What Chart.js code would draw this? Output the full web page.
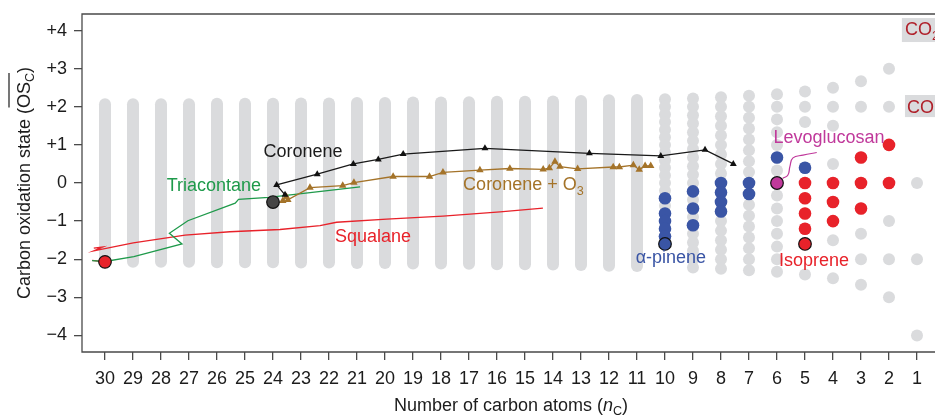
<!DOCTYPE html>
<html>
<head>
<meta charset="utf-8">
<script src="https://cdn.jsdelivr.net/npm/chart.js@4/dist/chart.umd.min.js"></script>
<style>
html,body{margin:0;padding:0;background:#fff;}
canvas{display:block;}
</style>
</head>
<body>
<canvas id="c" width="935" height="415"></canvas>
<script>
// ---------------- DATA ----------------
const xTickValues = [30,29,28,27,26,25,24,23,22,21,20,19,18,17,16,15,14,13,12,11,10,9,8,7,6,5,4,3,2,1];
const yTickValues = [-4,-3,-2,-1,0,1,2,3,4];

// Possible OSc values, large nC: dense columns (low / high end)
const continuumN    = [30,29,28,27,26,25,24,23,22,21,20,19,18,17,16,15,14,13,12,11];
const continuumLow  = [-2.07,-2.07,-2.07,-2.07,-2.08,-2.08,-2.08,-2.09,-2.09,-2.10,-2.10,-2.11,-2.11,-2.12,-2.13,-2.13,-2.14,-2.15,-2.17,-2.18];
const continuumHigh = [2.07,2.07,2.07,2.07,2.08,2.08,2.08,2.09,2.09,2.10,2.10,2.11,2.11,2.12,2.13,2.13,2.14,2.15,2.17,2.18];

// Possible OSc values, small nC: individual dots
const latticeN = [10,9,8,7,6,5,4,3,2,1];
const latticeOS = [
  [2.2,2.0,1.8,1.6,1.4,1.2,1.0,0.8,0.6,0.4,0.2,0,-0.2,-0.4,-0.6,-0.8,-1.0,-1.2,-1.4,-1.6],
  [2.22,2.0,1.78,1.56,1.33,1.11,0.89,0.67,0.44,0.22,0,-0.22,-0.44,-0.67,-0.89,-1.11,-1.33,-1.56,-1.78,-2.0,-2.22],
  [2.25,2.0,1.75,1.5,1.25,1.0,0.75,0.5,0.25,0,-0.25,-0.5,-0.75,-1.0,-1.25,-1.5,-1.75,-2.0,-2.25],
  [2.29,2.0,1.71,1.43,1.14,0.86,0.57,0.29,0,-0.29,-0.57,-0.86,-1.14,-1.43,-1.71,-2.0,-2.29],
  [2.33,2.0,1.67,1.33,1.0,0.67,0.33,0,-0.33,-0.67,-1.0,-1.33,-1.67,-2.0,-2.33],
  [2.4,2.0,1.6,0.4,0,-0.4,-0.8,-1.2,-1.6,-2.4],
  [2.5,2.0,1.5,0.5,0,-0.5,-1.0,-1.5,-2.5],
  [2.67,2.0,0.67,0,-0.67,-1.33,-2.0,-2.67],
  [3,2,1,0,-1,-2,-3],
  [0,-2,-4]
];

// Trajectories
const triacontaneN  = [30.46,30.0,28.97,27.25,27.70,27.04,25.35,25.23,24.15,20.89];
const triacontaneOS = [-2.04,-2.06,-1.93,-1.60,-1.32,-0.99,-0.53,-0.43,-0.375,-0.10];

const squalaneN  = [30.0,30.46,30.46,30.40,30.08,30.40,28.99,27.14,25.54,23.75,22.32,21.73,19.94,17.93,15.89,14.36];
const squalaneOS = [-2.07,-2.03,null,-1.71,-1.68,-1.78,-1.57,-1.37,-1.28,-1.22,-1.12,-1.03,-0.95,-0.87,-0.76,-0.66];

const coroneneN  = [23.57,23.87,22.42,21.13,20.24,19.35,16.43,12.70,10.15,8.57,7.56];
const coroneneOS = [-0.31,-0.05,0.23,0.50,0.62,0.76,0.91,0.78,0.71,0.87,0.50];

const coroneneO3N  = [23.65,23.52,23.47,22.68,21.51,21.11,19.71,18.41,17.93,16.61,15.54,14.35,14.13,13.93,13.75,13.12,11.85,11.63,11.13,10.92,10.71,10.51];
const coroneneO3OS = [-0.47,-0.36,-0.44,-0.12,-0.07,0.01,0.17,0.17,0.28,0.34,0.38,0.36,0.39,0.56,0.43,0.37,0.42,0.42,0.47,0.35,0.45,0.45];

// SOA products
const aPineneN  = [10,10,10,10,10,9,9,9,8,8,8,8,7,7,6,5];
const aPineneOS = [-0.4,-0.8,-1.0,-1.2,-1.4,-0.22,-0.67,-1.11,0,-0.25,-0.5,-0.75,0,-0.29,0.67,0.4];

const isopreneN  = [5,5,5,5,4,4,4,3,3,3,2,2];
const isopreneOS = [0,-0.4,-0.8,-1.2,0,-0.5,-1.0,0.67,0,-0.67,1,0];

// Precursors (outlined)
const precursorN  = [30,24,10,6,5];
const precursorOS = [-2.07,-0.5,-1.6,0,-1.6];

// Levoglucosan leader line
const levoLeaderN  = [4.58,5.07,5.43,5.54,5.61,5.80];
const levoLeaderOS = [0.80,0.73,0.66,0.43,0.21,0.12];

// ---------------- STYLE ----------------
const FONT = '"Liberation Sans", Arial, Helvetica, sans-serif';
const GREY = '#dadbdd';
const GREEN = '#1f9a4b';
const RED = '#e8222a';
const BLUE = '#3a55a5';
const BROWN = '#a47329';
const MAGENTA = '#c0399b';
const DARKRED = '#b0212b';
const AXIS = '#4a4a4a';
const TEXT = '#1c1c1c';

const precursorColors = [RED,'#454545',BLUE,MAGENTA,RED];

const annotations = [
  {text:'Coronene', x:22.93, y:0.68, color:'#1c1c1c', align:'center'},
  {text:'Triacontane', x:26.11, y:-0.20, color:GREEN, align:'center'},
  {text:'Squalane', x:20.43, y:-1.55, color:RED, align:'center'},
  {text:'\u03b1-pinene', x:9.79, y:-2.09, color:BLUE, align:'center'},
  {text:'Isoprene', x:4.68, y:-2.18, color:RED, align:'center'},
  {text:'Levoglucosan', x:4.14, y:1.06, color:MAGENTA, align:'center'}
];

function pts(xs, ys){ return xs.map((x,i)=>({x:x, y:ys[i]})); }

const datasets = [];
continuumN.forEach((n,i)=>{
  datasets.push({type:'scatter', showLine:true,
    data:[{x:n,y:continuumLow[i]},{x:n,y:continuumHigh[i]}],
    borderColor:GREY, borderWidth:12, borderCapStyle:'round',
    pointRadius:0, order:100});
});
const latticePts = [];
latticeN.forEach((n,i)=>latticeOS[i].forEach(v=>latticePts.push({x:n,y:v})));
datasets.push({type:'scatter', data:latticePts, pointRadius:6, backgroundColor:GREY, borderWidth:0, order:90});

datasets.push({type:'scatter', showLine:true, data:pts(triacontaneN,triacontaneOS), borderColor:GREEN, borderWidth:1.3, pointRadius:0, order:60});
datasets.push({type:'scatter', showLine:true, data:pts(squalaneN,squalaneOS), borderColor:RED, borderWidth:1.3, pointRadius:0, spanGaps:false, order:60});
datasets.push({type:'scatter', showLine:true, data:pts(coroneneO3N,coroneneO3OS), borderColor:BROWN, borderWidth:1.3,
  pointStyle:'triangle', pointRadius:4.3, pointBackgroundColor:BROWN, pointBorderWidth:0, order:55});
datasets.push({type:'scatter', showLine:true, data:pts(coroneneN,coroneneOS), borderColor:'#1a1a1a', borderWidth:1.3,
  pointStyle:'triangle', pointRadius:4, pointBackgroundColor:'#111', pointBorderWidth:0, order:50});
datasets.push({type:'scatter', showLine:true, data:pts(levoLeaderN,levoLeaderOS), borderColor:MAGENTA, borderWidth:1.2, tension:0.45, pointRadius:0, order:45});

datasets.push({type:'scatter', data:pts(aPineneN,aPineneOS), pointRadius:6.3, backgroundColor:BLUE, borderWidth:0, order:30});
datasets.push({type:'scatter', data:pts(isopreneN,isopreneOS), pointRadius:6.3, backgroundColor:RED, borderWidth:0, order:30});
datasets.push({type:'scatter', data:pts(precursorN,precursorOS), pointRadius:6.3, backgroundColor:precursorColors, borderColor:'#111', borderWidth:1.2, order:10});

function drawParts(ctx, parts, cx, baseY){
  let total = 0;
  parts.forEach(p=>{ ctx.font = p.font; p.w = ctx.measureText(p.text).width; total += p.w; });
  let x = cx - total/2;
  parts.forEach(p=>{
    ctx.font = p.font;
    ctx.fillText(p.text, x, baseY + (p.dy||0));
    p.x0 = x; x += p.w;
  });
  return parts;
}

const overlay = {
  id:'overlay',
  afterDatasetsDraw(chart){
    const {ctx, chartArea:a, scales:{x, y}} = chart;
    ctx.save();
    // CO2 / CO boxes
    ctx.fillStyle = GREY;
    let bl = x.getPixelForValue(1.54), bt = y.getPixelForValue(4.33), bb = y.getPixelForValue(3.70);
    ctx.fillRect(bl, bt, a.right - bl + 20, bb - bt);
    let cl = x.getPixelForValue(1.43), ct = y.getPixelForValue(2.31), cb = y.getPixelForValue(1.73);
    ctx.fillRect(cl, ct, a.right - cl + 20, cb - ct);
    ctx.fillStyle = DARKRED;
    ctx.textAlign = 'left'; ctx.textBaseline = 'alphabetic';
    ctx.font = '18px ' + FONT;
    let tx = x.getPixelForValue(1.43), ty = y.getPixelForValue(3.88);
    ctx.fillText('CO', tx, ty);
    let w = ctx.measureText('CO').width;
    ctx.font = '12.6px ' + FONT;
    ctx.fillText('2', tx + w, ty + 5);
    ctx.font = '18px ' + FONT;
    ctx.fillText('CO', x.getPixelForValue(1.36), y.getPixelForValue(1.85));

    // text labels
    ctx.font = '18px ' + FONT;
    annotations.forEach(l=>{
      ctx.fillStyle = l.color;
      ctx.textAlign = l.align;
      ctx.fillText(l.text, x.getPixelForValue(l.x), y.getPixelForValue(l.y));
    });
    // Coronene + O3
    ctx.fillStyle = BROWN;
    ctx.textAlign = 'left';
    let ox = x.getPixelForValue(17.21), oy = y.getPixelForValue(-0.18);
    ctx.font = '18px ' + FONT;
    ctx.fillText('Coronene + O', ox, oy);
    let ow = ctx.measureText('Coronene + O').width;
    ctx.font = '12.6px ' + FONT;
    ctx.fillText('3', ox + ow, oy + 5);
    ctx.restore();
  },
  afterDraw(chart){
    const {ctx, chartArea:a} = chart;
    ctx.save();
    // frame (left, top, bottom)
    ctx.strokeStyle = AXIS; ctx.lineWidth = 1.3;
    ctx.beginPath();
    ctx.moveTo(a.right + 20, a.top); ctx.lineTo(a.left, a.top);
    ctx.lineTo(a.left, a.bottom); ctx.lineTo(a.right + 20, a.bottom);
    ctx.stroke();

    ctx.fillStyle = TEXT;
    ctx.textAlign = 'left'; ctx.textBaseline = 'alphabetic';
    // x title
    drawParts(ctx, [
      {text:'Number of carbon atoms (', font:'18px ' + FONT},
      {text:'n', font:'italic 18px ' + FONT},
      {text:'C', font:'12.6px ' + FONT, dy:4},
      {text:')', font:'18px ' + FONT}
    ], 511, 411);
    // y title
    ctx.translate(29.5, 183);
    ctx.rotate(-Math.PI/2);
    const parts = drawParts(ctx, [
      {text:'Carbon oxidation state (', font:'18px ' + FONT},
      {text:'OS', font:'18px ' + FONT},
      {text:'C', font:'12.6px ' + FONT, dy:4},
      {text:')', font:'18px ' + FONT}
    ], 0, 0);
    ctx.strokeStyle = TEXT; ctx.lineWidth = 1.2;
    ctx.beginPath();
    ctx.moveTo(parts[1].x0 + 0.5, -20.5);
    ctx.lineTo(parts[2].x0 + parts[2].w, -20.5);
    ctx.stroke();
    ctx.restore();
  }
};

new Chart(document.getElementById('c'), {
  type:'scatter',
  data:{datasets:datasets},
  options:{
    responsive:false,
    devicePixelRatio:1,
    animation:false,
    events:[],
    layout:{autoPadding:false, padding:{left:0, right:0, top:14, bottom:0}},
    plugins:{legend:{display:false}, tooltip:{enabled:false}, title:{display:false}},
    scales:{
      x:{
        type:'linear', reverse:true, min:0.3571, max:30.8214,
        afterBuildTicks:s=>{ s.ticks = xTickValues.map(v=>({value:v})); },
        afterFit:s=>{ s.height = 63; s.paddingLeft = 0; s.paddingRight = 0; },
        grid:{drawOnChartArea:false, drawTicks:true, tickLength:8, color:AXIS, lineWidth:1.3},
        border:{display:false},
        ticks:{padding:8, autoSkip:false, maxRotation:0, color:TEXT, font:{family:FONT, size:18},
          callback:v=>String(v)}
      },
      y:{
        type:'linear', min:-4.436, max:4.436,
        afterBuildTicks:s=>{ s.ticks = yTickValues.map(v=>({value:v})); },
        afterFit:s=>{ s.width = 82; s.paddingTop = 0; s.paddingBottom = 0; },
        grid:{drawOnChartArea:false, drawTicks:true, tickLength:8, color:AXIS, lineWidth:1.3},
        border:{display:false},
        ticks:{padding:7, color:TEXT, font:{family:FONT, size:18},
          callback:v=> v > 0 ? '+' + v : (v < 0 ? '\u2212' + (-v) : '0')}
      }
    }
  },
  plugins:[overlay]
});
</script>
</body>
</html>
